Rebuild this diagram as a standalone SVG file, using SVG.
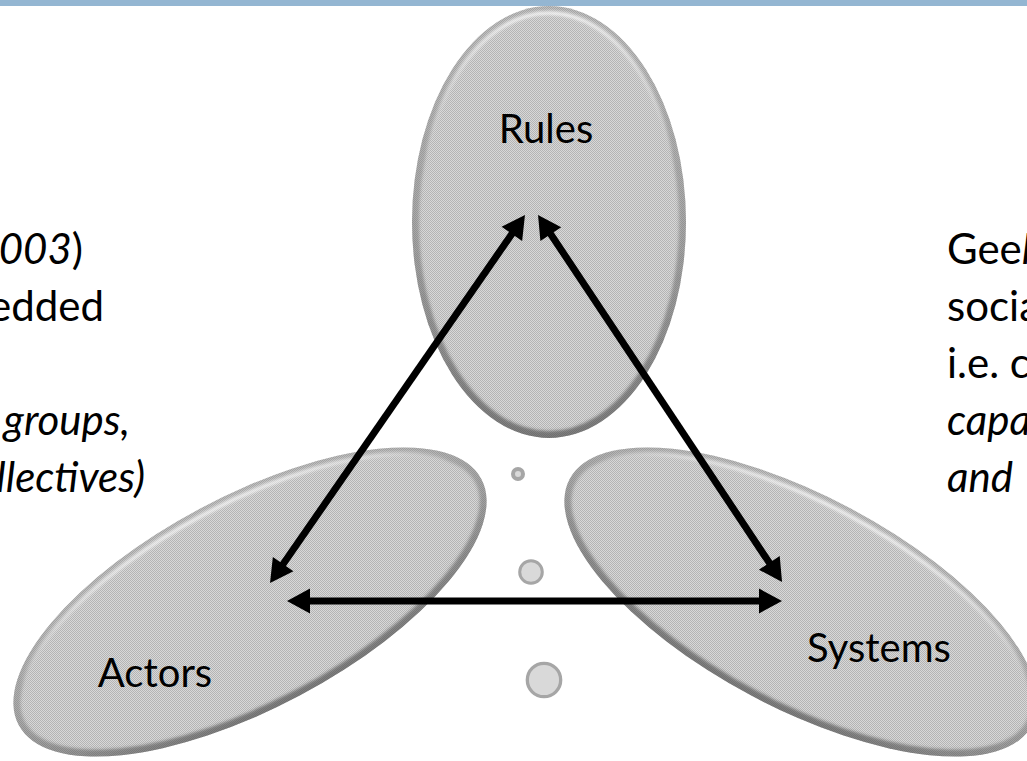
<svg xmlns="http://www.w3.org/2000/svg" width="1027" height="761" viewBox="0 0 1027 761">
  <style>
    .label { font-family: Lato, "Liberation Sans", sans-serif; font-size: 40px; fill: #000; }
    .side { font-family: Lato, "Liberation Sans", sans-serif; font-size: 42px; fill: #000; }
    .it { font-style: italic; }
    .conn { stroke: #000; stroke-width: 7; fill: none; marker-start: url(#head); marker-end: url(#head); }
    .dot { fill: #d9d9d9; stroke: #a6a6a6; }
  </style>
  <defs>
    <!-- dithered grey surface -->
    <pattern id="tex" width="2" height="2" patternUnits="userSpaceOnUse">
      <rect width="2" height="2" fill="#d8d8d8"/>
      <rect width="1" height="1" fill="#b4b4b4"/>
      <rect x="1" y="1" width="1" height="1" fill="#b4b4b4"/>
    </pattern>
    <!-- bevel rim: darker toward the bottom -->
    <linearGradient id="rim" x1="0" y1="0" x2="0" y2="1">
      <stop offset="0" stop-color="#606060" stop-opacity="0.2"/>
      <stop offset="0.5" stop-color="#555555" stop-opacity="0.35"/>
      <stop offset="1" stop-color="#404040" stop-opacity="0.6"/>
    </linearGradient>
    <!-- highlight ridge along the upper edge -->
    <linearGradient id="hl" x1="0" y1="0" x2="0" y2="1">
      <stop offset="0" stop-color="#ffffff" stop-opacity="0.9"/>
      <stop offset="0.35" stop-color="#ffffff" stop-opacity="0"/>
    </linearGradient>
    <filter id="soft" x="-10%" y="-10%" width="120%" height="120%">
      <feGaussianBlur stdDeviation="1.6"/>
    </filter>
    <clipPath id="clipRules"><ellipse cx="549" cy="222" rx="137" ry="216"/></clipPath>
    <clipPath id="clipActors"><ellipse rx="262" ry="106" transform="translate(250 602) rotate(-28)"/></clipPath>
    <clipPath id="clipSystems"><ellipse rx="262" ry="106" transform="translate(801 602) rotate(28)"/></clipPath>
    <marker id="head" markerUnits="userSpaceOnUse" markerWidth="23" markerHeight="25" refX="9" refY="12.5" orient="auto-start-reverse" overflow="visible">
      <path d="M0,0 L23,12.5 L0,25 Z" fill="#000"/>
    </marker>
  </defs>

  <rect width="1027" height="761" fill="#ffffff"/>
  <!-- title bar strip -->
  <rect width="1027" height="6" fill="#94b6d2"/>

  <!-- side text, left column -->
  <g id="text-left" class="side">
    <text x="83" y="264" text-anchor="end"><tspan class="it">003</tspan>)</text>
    <text x="104" y="321" text-anchor="end">edded</text>
    <text x="130" y="435" text-anchor="end" class="it">groups,</text>
    <text x="145" y="492" text-anchor="end" class="it">llectives)</text>
  </g>

  <!-- side text, right column -->
  <g id="text-right" class="side">
    <text x="947" y="264">Gee<tspan class="it">l</tspan></text>
    <text x="947" y="321">socia</text>
    <text x="947" y="378">i.e. c</text>
    <text x="947" y="435" class="it">capa</text>
    <text x="947" y="492" class="it">and</text>
  </g>

  <!-- Rules -->
  <g id="rules">
    <g clip-path="url(#clipRules)">
      <rect x="400" y="0" width="300" height="450" fill="url(#tex)"/>
      <g transform="translate(549 222)" filter="url(#soft)">
        <ellipse rx="137" ry="216" fill="none" stroke="url(#rim)" stroke-width="14"/>
        <ellipse rx="130" ry="209" fill="none" stroke="url(#hl)" stroke-width="3"/>
      </g>
    </g>
    <text class="label" x="546" y="143" text-anchor="middle">Rules</text>
  </g>

  <!-- Actors -->
  <g id="actors">
    <g clip-path="url(#clipActors)">
      <rect x="0" y="440" width="500" height="321" fill="url(#tex)"/>
      <g transform="translate(250 602) rotate(-28)" filter="url(#soft)">
        <ellipse rx="262" ry="106" fill="none" stroke="url(#rim)" stroke-width="14"/>
        <ellipse rx="255" ry="99" fill="none" stroke="url(#hl)" stroke-width="3"/>
      </g>
    </g>
    <text class="label" x="155" y="687" text-anchor="middle">Actors</text>
  </g>

  <!-- Systems -->
  <g id="systems">
    <g clip-path="url(#clipSystems)">
      <rect x="560" y="440" width="467" height="321" fill="url(#tex)"/>
      <g transform="translate(801 602) rotate(28)" filter="url(#soft)">
        <ellipse rx="262" ry="106" fill="none" stroke="url(#rim)" stroke-width="14"/>
        <ellipse rx="255" ry="99" fill="none" stroke="url(#hl)" stroke-width="3"/>
      </g>
    </g>
    <text class="label" x="879" y="662" text-anchor="middle">Systems</text>
  </g>

  <!-- connecting bubbles -->
  <g id="bubbles">
    <circle class="dot" cx="518" cy="474" r="5" stroke-width="4"/>
    <circle class="dot" cx="531" cy="572" r="11.3" stroke-width="3"/>
    <circle class="dot" cx="544" cy="680" r="16.7" stroke-width="3.3"/>
  </g>

  <!-- two-way connectors -->
  <g id="connectors">
    <path class="conn" d="M517,226.5 L278,571.5"/>
    <path class="conn" d="M545.8,226.7 L774.3,570.3"/>
    <path class="conn" d="M301,601 L768,601"/>
  </g>
</svg>
